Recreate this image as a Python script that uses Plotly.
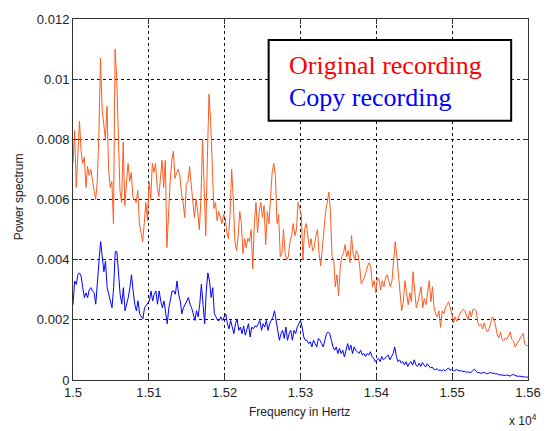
import numpy as np
import plotly.graph_objects as go

# Power spectrum (x 1e-3) of the original recording, 15.0 kHz - 15.6 kHz
original_milli = [
    # 15000 - 15118 Hz
    7.2, 8.3, 6.4, 7.5, 8.6, 7.6, 7.2, 7.4, 6.4, 7.1, 6.8, 7.0, 6.6, 6.3, 6.0, 6.6,
    8.2, 10.7, 9.0, 8.4, 8.0, 9.1, 7.0, 6.4, 6.6, 5.2, 11.0, 10.0, 7.6, 6.3, 5.9, 7.9,
    5.8, 6.6, 7.2, 6.6, 6.9, 6.1, 6.0, 5.9, 6.3, 5.2, 4.9, 4.6, 5.2, 5.9, 5.3, 6.6,
    6.0, 7.2, 6.9, 7.2, 6.4, 6.1, 6.7, 7.3,
    # 15120 - 15240 Hz
    6.4, 7.3, 4.4, 5.7, 6.6, 7.3, 7.6, 6.7, 6.9, 7.0, 6.8, 6.2, 5.9, 5.4, 6.5, 6.6,
    7.1, 6.5, 5.8, 5.4, 6.0, 5.6, 5.0, 6.0, 8.0, 6.4, 4.8, 7.4, 9.5, 8.6, 7.1, 5.7,
    5.9, 5.3, 5.6, 5.4, 5.2, 5.5, 5.4, 4.9, 4.7, 5.5, 7.0, 6.0, 4.6, 4.3, 4.8, 5.6,
    5.2, 4.2, 4.7, 4.4, 4.7, 4.6, 5.0, 3.7, 5.2,
    # 15242 - 15360 Hz
    5.9, 4.9, 5.6, 5.9, 5.4, 5.8, 4.5, 5.6, 5.2, 5.9, 6.9, 7.2, 6.8, 5.2, 5.5, 4.1,
    4.2, 5.0, 4.2, 4.0, 4.1, 4.6, 4.8, 5.2, 4.8, 5.0, 5.9, 5.7, 5.5, 4.0, 5.0, 5.2,
    4.7, 4.4, 4.7, 4.3, 4.4, 4.8, 5.0, 4.2, 3.8, 4.5, 4.9, 5.6, 5.9, 6.25, 5.6, 4.1,
    4.0, 3.1, 3.5, 2.8, 3.7, 4.1, 4.2, 4.5, 4.1,
    # 15362 - 15480 Hz
    4.3, 3.9, 4.8, 4.2, 4.0, 4.3, 4.2, 3.8, 3.2, 3.3, 3.4, 3.6, 3.8, 3.9, 3.7, 3.1,
    3.3, 2.9, 3.4, 3.35, 3.0, 3.3, 3.1, 3.4, 3.5, 3.3, 3.1, 3.3, 3.9, 4.6, 4.1, 3.4,
    2.9, 2.3, 2.6, 3.3, 2.9, 2.5, 2.9, 2.6, 3.6, 3.0, 2.4, 2.6, 2.9, 3.1, 2.4, 2.7,
    2.5, 3.0, 3.3, 2.6, 3.1, 2.4, 2.2, 2.1, 2.3,
    # 15482 - 15600 Hz
    1.75, 2.3, 2.2, 2.4, 2.5, 2.6, 2.4, 2.2, 1.9, 2.1, 1.95, 2.1, 2.2, 2.3, 2.35, 2.3,
    2.15, 2.0, 2.3, 2.1, 2.35, 2.35, 2.3, 1.9, 1.8, 1.85, 1.7, 1.9, 1.7, 1.6, 1.7, 1.9,
    2.1, 2.0, 1.8, 1.5, 1.4, 1.6, 1.35, 1.3, 1.4, 1.35, 1.5, 1.6, 1.35, 1.3, 1.1, 1.2,
    1.3, 1.4, 1.5, 1.55, 1.2, 1.15, 1.15,
]

# Power spectrum (x 1e-3) of the copy recording
copy_milli = [
    # 15000 - 15198 Hz
    2.5, 3.29, 3.18, 3.5, 3.56, 3.45, 3.07, 2.74, 2.9, 2.74, 3.0, 3.07, 2.96, 2.9, 2.52, 3.4,
    3.95, 4.6, 3.95, 3.6, 3.95, 3.07, 2.85, 2.63, 2.4, 3.07, 4.27, 4.27, 3.6, 2.85, 2.52, 3.07,
    2.3, 2.5, 2.74, 3.07, 3.5, 2.96, 2.52, 2.3, 2.63, 2.2, 2.1, 2.03, 2.4, 2.47, 2.52, 2.63,
    2.96, 2.63, 2.85, 2.96, 2.52, 2.96, 2.63, 2.4, 2.63, 2.2, 1.87, 2.4, 2.63, 2.96, 2.96, 2.85,
    3.29, 2.85, 2.63, 2.2, 2.4, 2.52, 2.63, 2.74, 2.52, 2.4, 2.2, 1.98, 2.3, 2.1, 2.52, 3.18,
    2.52, 1.87, 2.96, 3.56, 3.29, 2.74, 3.07, 2.2, 2.1, 1.98, 1.98, 2.1, 1.98, 2.1,
    # 15201 - 15240 Hz
    2.2, 1.87, 1.7, 1.98, 1.76, 1.54, 1.87, 2.03, 1.65, 1.76, 1.54, 1.8, 1.49, 1.7, 1.87, 1.43,
    1.76, 1.7, 1.8,
    # 15242 - 15360 Hz
    1.76, 1.87, 1.98, 1.65, 1.87, 1.76, 1.98, 1.65, 1.87, 1.98, 2.09, 2.3, 1.98, 1.76, 1.32, 1.54,
    1.65, 1.38, 1.76, 1.32, 1.54, 1.65, 1.32, 1.65, 1.54, 1.76, 1.87, 1.98, 1.76, 1.43, 1.32, 1.32,
    1.21, 1.27, 1.1, 1.32, 1.21, 1.1, 1.38, 1.32, 1.21, 1.1, 1.32, 1.54, 1.6, 1.54, 1.32, 1.1,
    0.99, 1.1, 0.88, 1.05, 0.88, 0.99, 0.77, 0.99,
    # 15362 - 15480 Hz
    1.21, 0.99, 1.16, 0.88, 1.1, 0.99, 0.94, 0.88, 0.99, 0.83, 0.88, 0.78, 0.88, 0.83, 0.94, 0.78,
    0.72, 0.61, 0.67, 0.72, 0.61, 0.78, 0.67, 0.72, 0.78, 0.83, 0.67, 0.78, 0.88, 1.1, 0.78, 0.61,
    0.67, 0.56, 0.61, 0.5, 0.61, 0.45, 0.56, 0.61, 0.5, 0.67, 0.5, 0.45, 0.56, 0.45, 0.58, 0.5,
    0.43, 0.54, 0.47, 0.4, 0.43, 0.36, 0.34, 0.38, 0.32,
    # 15482 - 15600 Hz
    0.33, 0.30, 0.35, 0.30, 0.36, 0.40, 0.33, 0.34, 0.30, 0.31, 0.35, 0.33, 0.30, 0.31, 0.28, 0.29,
    0.26, 0.27, 0.25, 0.26, 0.30, 0.36, 0.29, 0.24, 0.25, 0.22, 0.24, 0.25, 0.22, 0.21, 0.23, 0.25,
    0.22, 0.23, 0.20, 0.21, 0.18, 0.17, 0.16, 0.14, 0.15, 0.17, 0.14, 0.13, 0.16, 0.19, 0.15, 0.13,
    0.12, 0.13, 0.11, 0.10, 0.11, 0.09, 0.10,
]

original = np.array(original_milli) * 1e-3
copy = np.array(copy_milli) * 1e-3
freq_orig = np.linspace(15000, 15600, len(original))
freq_copy = np.linspace(15000, 15600, len(copy))

x_ticks = [15000, 15100, 15200, 15300, 15400, 15500, 15600]
x_tick_text = ["1.5", "1.51", "1.52", "1.53", "1.54", "1.55", "1.56"]
y_ticks = [0, 0.002, 0.004, 0.006, 0.008, 0.010, 0.012]
y_tick_text = ["0", "0.002", "0.004", "0.006", "0.008", "0.01", "0.012"]

ORANGE = "#FF5A1E"
BLUE = "#0000FF"
AXIS = "#333333"

fig = go.Figure()
fig.add_trace(go.Scatter(x=freq_orig, y=original, mode="lines",
                         line=dict(color=ORANGE, width=1), showlegend=False))
fig.add_trace(go.Scatter(x=freq_copy, y=copy, mode="lines",
                         line=dict(color=BLUE, width=1), showlegend=False))

axis_common = dict(
    showline=True, linecolor=AXIS, linewidth=1, mirror="allticks",
    ticks="inside", ticklen=5, tickcolor=AXIS,
    showgrid=True, gridcolor="#111111", gridwidth=1, griddash="3px,3px",
    zeroline=False,
    tickfont=dict(family="Liberation Sans, Arial, sans-serif", size=13, color="#222222"),
)

fig.update_xaxes(range=[15000, 15600], tickvals=x_ticks, ticktext=x_tick_text, **axis_common)
fig.update_yaxes(range=[0, 0.012], tickvals=y_ticks, ticktext=y_tick_text, **axis_common)

label_font = dict(family="Liberation Sans, Arial, sans-serif", size=12, color="#222222")
legend_font = dict(family="Liberation Serif, Times New Roman, serif", size=26)

# Boxed key with coloured series names
fig.add_shape(type="rect", xref="paper", yref="paper",
              x0=0.43, x1=0.963, y0=0.718, y1=0.942,
              line=dict(color="black", width=2), fillcolor="white", layer="above")

fig.add_annotation(text="Original recording", xref="paper", yref="paper",
                   x=0.47, y=0.872, xanchor="left", yanchor="middle", showarrow=False,
                   font=dict(color="#FF0000", **legend_font))
fig.add_annotation(text="Copy recording", xref="paper", yref="paper",
                   x=0.47, y=0.782, xanchor="left", yanchor="middle", showarrow=False,
                   font=dict(color="#0000FF", **legend_font))

fig.add_annotation(text="Frequency in Hertz", xref="paper", yref="paper",
                   x=0.497, y=-0.088, xanchor="center", yanchor="middle",
                   showarrow=False, font=label_font)
fig.add_annotation(text="Power spectrum", xref="paper", yref="paper",
                   x=-0.118, y=0.507, xanchor="center", yanchor="middle",
                   textangle=-90, showarrow=False, font=label_font)
fig.add_annotation(text="x 10<sup>4</sup>", xref="paper", yref="paper",
                   x=0.988, y=-0.112, xanchor="center", yanchor="middle",
                   showarrow=False, font=label_font)

fig.update_layout(
    width=553, height=431,
    margin=dict(l=73, r=13, t=15, b=51),
    plot_bgcolor="white", paper_bgcolor="white",
)

fig.write_html("out.html")
